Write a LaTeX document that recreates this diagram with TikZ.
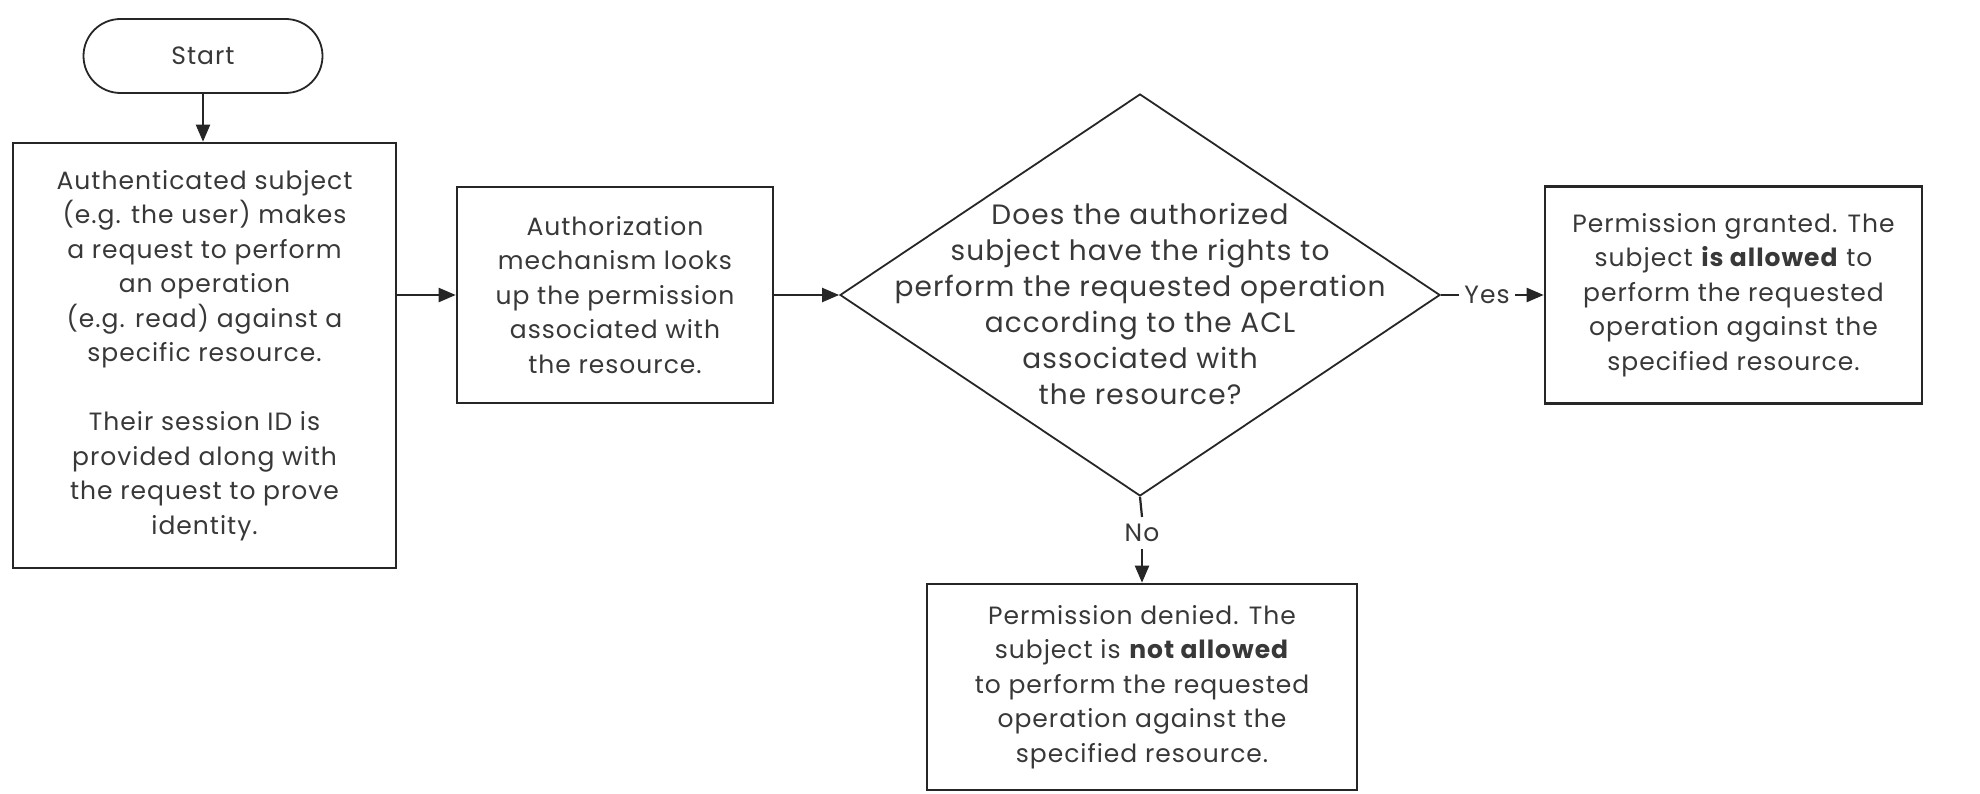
\documentclass[tikz,border=0pt]{standalone}
\usepackage{fontspec}
\setmainfont{Poppins}[LetterSpace=4]
\usetikzlibrary{arrows.meta,shapes.geometric}
\definecolor{ink}{HTML}{262626}
\definecolor{txt}{HTML}{383838}
\begin{document}
\begin{tikzpicture}[x=1pt,y=-1pt,
  every node/.style={text=txt, font=\fontsize{25}{34.5}\selectfont},
  box/.style={draw=ink, line width=2.6pt, rectangle, inner sep=0pt, align=center},
  link/.style={draw=ink, line width=2.2pt, -{Triangle[length=17pt,width=14pt]}},
  wire/.style={draw=ink, line width=2.2pt},
  tag/.style={inner sep=5pt}
]
\useasboundingbox (0,0) rectangle (1980,794);

% terminal
\node[draw=ink, line width=1.8pt, rounded corners=37pt, minimum width=239pt,
      minimum height=74pt] (start) at (203,56) {Start};

% process boxes
\node[box, minimum width=383pt, minimum height=425pt] (b1) at (204.5,355.5)
  {Authenticated subject\\(e.g. the user) makes\\a request to perform\\an operation\\(e.g. read) against a\\specific resource.\\[34.5pt]Their session ID is\\provided along with\\the request to prove\\identity.};

\node[box, minimum width=316pt, minimum height=216pt] (b2) at (615,295)
  {Authorization\\mechanism looks\\up the permission\\associated with\\the resource.};

% decision
\node[diamond, draw=ink, line width=1.8pt, minimum width=600pt,
      minimum height=402pt, inner sep=0pt] (dec) at (1140,295) {};
\node[align=center, font=\fontsize{28}{36}\selectfont] (q) at (1140,304)
  {Does the authorized\\subject have the rights to\\perform the requested operation\\according to the ACL\\associated with\\the resource?};

% outcomes
\node[box, minimum width=377pt, minimum height=217pt] (b3) at (1733.5,295)
  {Permission granted. The\\subject \textbf{is allowed} to\\perform the requested\\operation against the\\specified resource.};

\node[box, minimum width=430pt, minimum height=206pt] (b4) at (1142,687)
  {Permission denied. The\\subject is \textbf{not allowed}\\to perform the requested\\operation against the\\specified resource.};

% branch labels
\node[tag] (yes) at (1487,295) {Yes};
\node[tag, inner sep=7pt] (no) at (1142,533) {No};

% connectors
\draw[link] (start.south) -- (start.south |- b1.north);
\draw[link] (b1.east |- b2.west) -- (b2.west);
\draw[link] (b2.east) -- (dec.west);
\draw[wire] (dec.east) -- (yes.west);
\draw[link] (yes.east) -- (b3.west);
\draw[wire] (dec.south) -- (no.north);
\draw[link] (no.south) -- (b4.north);
\end{tikzpicture}
\end{document}
